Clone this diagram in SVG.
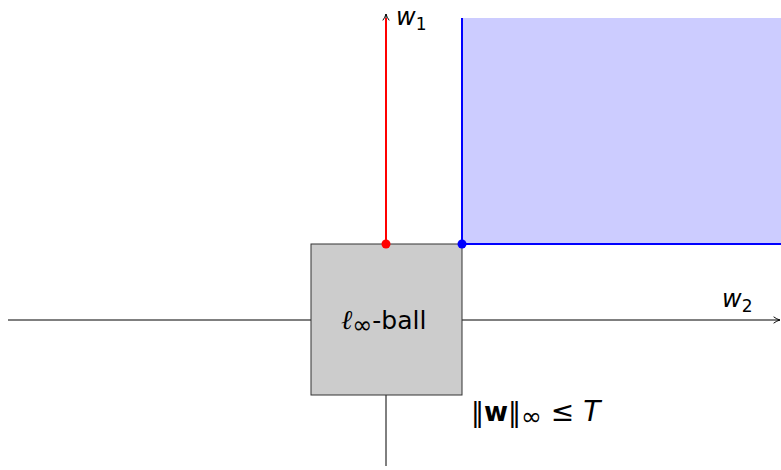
<svg xmlns="http://www.w3.org/2000/svg" width="781" height="470" viewBox="0 0 781 470">
<style>
.ax{stroke:#000;stroke-width:1;fill:none}
.t{font-family:"DejaVu Sans","Open Sans",sans-serif;fill:#000}
.m{font-family:"DejaVu Serif","Liberation Serif",serif;font-style:italic;fill:#000}
</style>
<defs>
<marker id="ah" viewBox="0 0 10 10" refX="9" refY="5" markerWidth="8" markerHeight="8" markerUnits="userSpaceOnUse" orient="auto">
<path d="M1,1 Q5,4 9,5 Q5,6 1,9" fill="none" stroke="#000" stroke-width="1.2"/>
</marker>
</defs>
<g id="region">
<rect x="462" y="18" width="319" height="226" fill="#ccccff"/>
<path d="M462,18 V244 H781" fill="none" stroke="#0000ff" stroke-width="2"/>
</g>
<g id="connectors">
<line class="ax" x1="8" y1="320" x2="780" y2="320" marker-end="url(#ah)"/>
<line class="ax" x1="386" y1="466" x2="386" y2="14" marker-end="url(#ah)"/>
<line x1="386" y1="244" x2="386" y2="18" stroke="#ff0000" stroke-width="2"/>
</g>
<g id="ball">
<rect x="311" y="244" width="151" height="151" fill="#cccccc" stroke="#333" stroke-width="1"/>
<text x="341" y="329" font-size="25"><tspan class="m" font-size="27">ℓ</tspan><tspan class="t" font-size="24" dy="4">∞</tspan><tspan class="t" dy="-4">-ball</tspan></text>
</g>
<circle cx="386" cy="244" r="4.5" fill="#ff0000"/>
<circle cx="462" cy="244" r="4.5" fill="#0000ff"/>
<text class="t" x="396" y="25" font-size="24" font-style="italic">w<tspan font-size="17" font-style="normal" dy="5">1</tspan></text>
<text class="t" x="722" y="307" font-size="24" font-style="italic">w<tspan font-size="17" font-style="normal" dy="5">2</tspan></text>
<text class="t" x="471" y="421" font-size="26">‖<tspan font-weight="bold">w</tspan>‖<tspan font-size="25" dy="4">∞</tspan><tspan dy="-4" font-size="28"> ≤ </tspan><tspan font-style="italic" font-size="28">T</tspan></text>
</svg>
